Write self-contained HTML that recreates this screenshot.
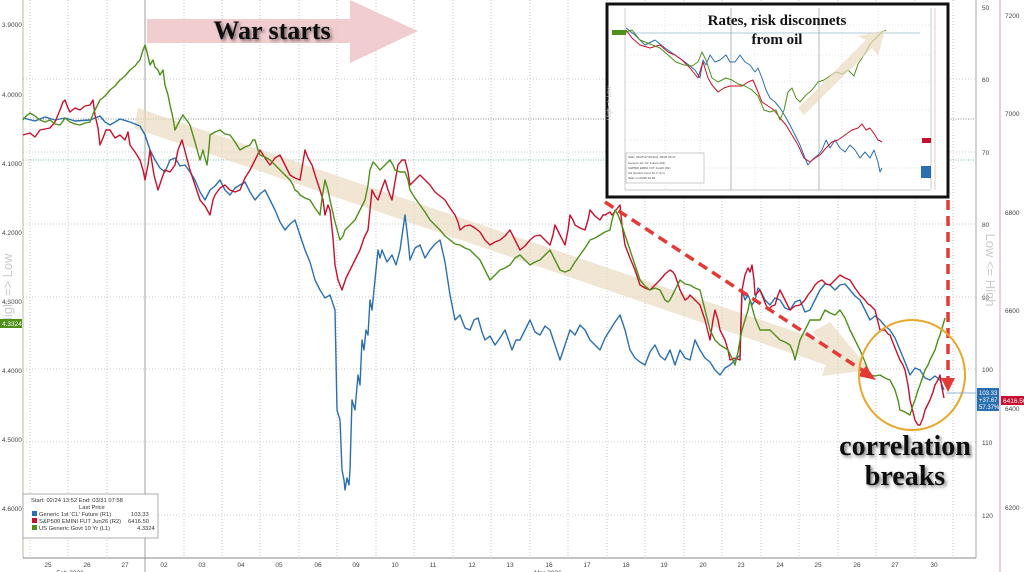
<!DOCTYPE html>
<html><head><meta charset="utf-8"><style>
body{margin:0;background:#fff;width:1024px;height:572px;overflow:hidden}
svg{display:block;font-family:"Liberation Sans",sans-serif}
</style></head><body>
<svg width="1024" height="572" viewBox="0 0 1024 572">
<defs>
<filter id="sh" x="-10%" y="-10%" width="130%" height="130%"><feGaussianBlur in="SourceAlpha" stdDeviation="1.5"/><feOffset dx="2" dy="2"/><feComponentTransfer><feFuncA type="linear" slope="0.5"/></feComponentTransfer><feMerge><feMergeNode/><feMergeNode in="SourceGraphic"/></feMerge></filter>
</defs>
<rect width="1024" height="572" fill="#fff"/>
<!-- vertical grid -->
<g stroke="#bbb" stroke-dasharray="1,2" stroke-width="0.8">
<line x1="30" y1="0" x2="30" y2="558"/><line x1="68" y1="0" x2="68" y2="558"/><line x1="107" y1="0" x2="107" y2="558"/>
<line x1="184" y1="0" x2="184" y2="558"/><line x1="222" y1="0" x2="222" y2="558"/><line x1="260" y1="0" x2="260" y2="558"/><line x1="299" y1="0" x2="299" y2="558"/><line x1="337" y1="0" x2="337" y2="558"/><line x1="376" y1="0" x2="376" y2="558"/><line x1="414" y1="0" x2="414" y2="558"/><line x1="453" y1="0" x2="453" y2="558"/><line x1="491" y1="0" x2="491" y2="558"/><line x1="530" y1="0" x2="530" y2="558"/><line x1="568" y1="0" x2="568" y2="558"/><line x1="607" y1="0" x2="607" y2="558"/><line x1="645" y1="0" x2="645" y2="558"/><line x1="684" y1="0" x2="684" y2="558"/><line x1="722" y1="0" x2="722" y2="558"/><line x1="761" y1="0" x2="761" y2="558"/><line x1="799" y1="0" x2="799" y2="558"/><line x1="838" y1="0" x2="838" y2="558"/><line x1="876" y1="0" x2="876" y2="558"/><line x1="915" y1="0" x2="915" y2="558"/><line x1="953" y1="0" x2="953" y2="558"/>
</g>
<line x1="145" y1="0" x2="145" y2="572" stroke="#888" stroke-width="0.8"/>
<g stroke="#bbb" stroke-dasharray="1,2" stroke-width="0.8">
<line x1="23" y1="79" x2="976" y2="79"/><line x1="23" y1="152" x2="976" y2="152"/><line x1="23" y1="224" x2="976" y2="224"/><line x1="23" y1="297" x2="976" y2="297"/><line x1="23" y1="369" x2="976" y2="369"/><line x1="23" y1="442" x2="976" y2="442"/><line x1="23" y1="515" x2="976" y2="515"/>
</g>
<line x1="23" y1="119" x2="976" y2="119" stroke="#666" stroke-dasharray="1,1.5" stroke-width="0.7"/>
<line x1="23" y1="160" x2="976" y2="160" stroke="#5a8" stroke-dasharray="1,1.5" stroke-width="0.7"/>
<!-- axes -->
<line x1="23" y1="0" x2="23" y2="558" stroke="#b8b8a0" stroke-width="1"/>
<line x1="23" y1="558" x2="976" y2="558" stroke="#888" stroke-width="1"/>
<line x1="976" y1="0" x2="976" y2="558" stroke="#9ab" stroke-width="1"/>
<line x1="1000" y1="0" x2="1000" y2="572" stroke="#d9a0a8" stroke-width="1"/>
<g font-size="6.5" fill="#444">
<text x="2" y="27">3.9000</text><text x="2" y="97">4.0000</text><text x="2" y="166">4.1000</text><text x="2" y="235">4.2000</text><text x="2" y="304">4.3000</text><text x="2" y="373">4.4000</text><text x="2" y="442">4.5000</text><text x="2" y="511">4.6000</text>
<text x="982" y="10">50</text><text x="982" y="82">60</text><text x="982" y="155">70</text><text x="982" y="227">80</text><text x="982" y="300">90</text><text x="982" y="372">100</text><text x="982" y="445">110</text><text x="982" y="518">120</text>
<text x="1005" y="18">7200</text><text x="1005" y="116">7000</text><text x="1005" y="215">6800</text><text x="1005" y="313">6600</text><text x="1005" y="411">6400</text><text x="1005" y="510">6200</text>
</g>
<g font-size="6.5" fill="#444" text-anchor="middle">
<text x="48" y="567">25</text><text x="87" y="567">26</text><text x="125" y="567">27</text><text x="164" y="567">02</text><text x="202" y="567">03</text><text x="241" y="567">04</text><text x="279" y="567">05</text><text x="318" y="567">06</text><text x="356" y="567">09</text><text x="395" y="567">10</text><text x="433" y="567">11</text><text x="472" y="567">12</text><text x="510" y="567">13</text><text x="549" y="567">16</text><text x="587" y="567">17</text><text x="626" y="567">18</text><text x="664" y="567">19</text><text x="703" y="567">20</text><text x="741" y="567">23</text><text x="780" y="567">24</text><text x="818" y="567">25</text><text x="857" y="567">26</text><text x="895" y="567">27</text><text x="934" y="567">30</text>
<text x="70" y="575">Feb 2026</text><text x="548" y="575">Mar 2026</text>
</g>
<text x="12" y="290" font-size="13" fill="#ccc" transform="rotate(-90 12 290)" text-anchor="middle">High =&gt; Low</text>
<text x="986" y="270" font-size="13" fill="#ccc" transform="rotate(90 986 270)" text-anchor="middle">Low &lt;= High</text>
<!-- war starts arrow -->
<path d="M147,19 L350,19 L350,0 L418,31 L350,63 L350,43 L147,43 Z" fill="#f0c4c8" opacity="0.85"/>
<text x="272" y="39" font-family="Liberation Serif,serif" font-weight="bold" font-size="26" fill="#111" text-anchor="middle" filter="url(#sh)">War starts</text>
<!-- beige band -->
<path d="M138,108 L820,340 L812,332 L830,322 L870,370 L822,376 L826,365 L134,128 Z" fill="#eadcc0" opacity="0.7"/>
<!-- series -->
<g fill="none" stroke-width="1.4" stroke-linejoin="round">
<polyline stroke="#2a6fb0" points="23,118 35,121 45,117 55,120 65,118 75,121 90,120 100,116 105,122 110,125 120,119 130,122 140,126 145,135 150,150 155,160 160,168 165,172 170,160 175,158 180,166 185,165 190,172 195,180 200,192 205,200 210,190 215,186 220,180 225,190 230,195 235,188 245,182 250,192 255,200 260,194 265,190 270,200 275,210 280,222 285,230 290,224 295,220 300,235 305,250 310,262 315,280 320,290 325,298 330,295 335,310 337,410 340,420 342,470 344,480 345,490 347,478 349,485 350,470 352,400 355,410 358,375 360,385 362,340 364,350 366,330 368,335 370,300 372,310 375,280 378,250 380,258 382,250 387,262 392,255 396,265 400,250 405,215 408,240 410,260 415,248 420,245 425,258 430,250 435,244 440,240 445,262 450,295 455,320 460,315 465,328 470,330 474,320 478,318 482,332 485,340 490,336 495,345 500,338 505,330 510,344 512,350 516,340 520,340 525,330 530,320 535,332 540,335 545,326 550,330 555,345 560,360 565,345 570,330 575,335 580,325 585,330 590,340 595,345 600,350 605,338 610,330 615,322 620,315 625,330 630,350 635,358 640,362 645,365 650,352 655,345 660,356 665,360 670,350 675,365 680,350 685,358 690,360 695,340 700,350 705,358 710,362 715,370 720,375 725,368 730,365 735,360 740,355 742,290 745,300 748,295 752,305 755,300 758,288 760,290 765,300 770,305 775,298 780,300 785,308 790,310 795,302 800,300 805,312 810,310 815,300 820,290 825,284 830,285 835,290 840,285 845,284 850,290 855,296 860,300 865,310 870,320 875,316 880,320 885,326 890,330 895,338 900,350 905,362 910,375 915,368 920,370 925,378 930,380 935,376 940,380 944,390"/>
<polyline stroke="#c8102e" points="23,135 30,133 35,137 40,130 50,128 55,122 60,110 63,102 65,100 68,108 70,112 75,108 80,110 85,106 90,105 93,100 95,115 98,128 100,145 103,138 106,130 110,130 115,138 120,135 125,140 128,132 130,145 135,152 140,160 143,170 145,180 148,165 150,150 154,175 158,190 162,178 165,170 170,172 175,165 178,150 182,140 186,155 190,170 195,185 200,200 205,206 210,215 213,200 215,195 220,188 225,185 230,190 235,192 240,190 245,178 250,170 255,160 260,150 265,158 270,165 275,158 280,155 285,165 290,175 295,178 300,180 303,162 305,150 308,158 312,165 316,178 320,190 323,200 325,215 328,205 330,210 333,238 335,265 338,280 342,290 346,278 350,270 355,260 360,250 364,238 368,230 370,210 372,190 375,196 378,200 382,188 385,180 388,190 392,200 395,182 398,165 402,160 405,160 408,172 410,185 415,180 420,175 425,180 430,185 435,192 440,196 445,200 450,208 455,215 458,222 460,230 465,226 470,225 475,228 480,232 485,240 490,245 495,242 500,240 505,236 510,230 515,240 520,250 525,246 530,240 535,236 540,235 545,240 550,245 553,235 555,225 560,235 565,245 568,230 570,215 573,220 575,225 580,228 585,230 588,220 590,210 595,216 600,220 603,215 605,215 610,212 612,215 616,210 620,205 622,225 625,245 630,258 635,270 640,285 645,288 650,290 655,285 660,280 665,274 670,270 673,272 675,275 680,290 685,300 688,298 690,295 695,300 700,305 705,320 710,340 713,320 715,310 718,320 720,330 723,336 725,340 728,350 730,360 735,358 740,360 741,320 742,290 745,275 748,268 750,272 752,265 754,280 755,295 758,292 760,290 764,300 768,310 772,306 775,305 778,295 780,290 785,300 790,310 795,306 800,305 805,300 808,295 812,290 815,285 818,282 822,280 826,284 830,285 835,280 840,275 845,278 850,280 855,288 860,295 865,300 868,304 870,305 873,308 875,310 878,322 880,330 885,330 888,334 890,335 895,348 900,360 903,365 905,370 908,385 910,400 913,412 915,420 918,425 920,425 923,418 925,410 928,404 930,400 933,392 935,385 938,380 940,375 942,388 944,398"/>
<polyline stroke="#4f8f1a" points="23,120 26,116 30,113 35,116 40,120 45,122 50,120 55,124 60,125 63,121 65,118 70,122 75,124 80,125 85,123 90,122 93,114 95,110 98,104 100,100 105,96 110,90 115,86 120,80 125,76 130,70 135,66 138,62 140,60 143,50 145,45 147,52 150,65 153,60 155,67 158,70 160,75 163,70 165,85 168,95 170,105 173,118 175,130 178,124 180,120 183,115 185,118 188,122 190,125 195,142 200,160 203,150 205,158 207,165 209,148 210,135 215,132 220,130 225,134 230,135 235,142 240,150 245,147 250,145 253,140 255,140 258,150 260,155 265,157 270,160 275,165 280,170 285,175 290,180 293,185 295,190 298,192 300,195 305,198 310,200 315,208 320,215 322,198 325,180 328,190 330,200 335,222 340,240 343,236 345,230 350,225 355,220 360,210 365,200 368,185 370,170 373,162 376,165 380,170 385,165 390,160 393,165 395,170 400,172 405,172 408,180 410,190 415,198 420,205 425,212 430,220 435,225 440,230 445,236 450,240 455,244 460,245 465,248 470,250 475,255 480,260 485,270 490,280 495,275 500,270 505,268 510,265 515,258 520,255 525,260 530,265 535,262 540,260 545,255 550,250 555,260 560,270 565,272 570,270 575,262 580,255 585,248 590,240 595,238 600,235 605,232 610,230 612,220 615,210 618,215 620,220 625,235 630,250 635,265 640,280 645,286 650,290 655,288 660,290 663,296 665,300 668,302 670,300 675,290 680,280 685,284 690,285 695,288 700,290 705,310 710,330 715,340 720,345 725,348 728,350 732,358 735,365 738,352 740,340 742,330 745,320 748,310 750,300 755,318 760,330 765,330 770,330 775,335 780,340 785,342 790,345 793,352 795,360 798,348 800,340 805,330 810,320 815,320 820,320 823,314 825,310 830,313 835,315 838,312 840,310 845,318 850,330 855,340 860,350 865,362 870,375 875,376 880,375 885,378 890,380 893,386 895,390 898,400 900,410 905,412 910,415 913,405 915,400 918,390 920,385 923,376 925,370 928,365 930,360 935,350 938,340 940,335 943,325 945,318"/>
</g>
<!-- red dashed arrows -->
<line x1="605" y1="202" x2="868" y2="374" stroke="#e53935" stroke-width="3.5" stroke-dasharray="10,6"/>
<path d="M876,380 L858,376 L866,366 Z" fill="#e53935"/>
<line x1="948" y1="200" x2="948" y2="380" stroke="#e53935" stroke-width="3.5" stroke-dasharray="10,6"/>
<path d="M941,378 L955,378 L948,392 Z" fill="#e53935"/>
<ellipse cx="912" cy="375" rx="53" ry="55" fill="none" stroke="#e8a82a" stroke-width="2"/>
<text x="905" y="455" font-family="Liberation Serif,serif" font-weight="bold" font-size="28" fill="#111" text-anchor="middle" filter="url(#sh)">correlation</text>
<text x="905" y="485" font-family="Liberation Serif,serif" font-weight="bold" font-size="28" fill="#111" text-anchor="middle" filter="url(#sh)">breaks</text>
<!-- end tags -->
<line x1="946" y1="393" x2="976" y2="393" stroke="#6a9fcf" stroke-width="0.8"/>
<rect x="977" y="388" width="22" height="23" fill="#2a6fb0"/>
<g font-size="6" fill="#fff"><text x="979" y="395">103.33</text><text x="979" y="402">+37.67</text><text x="979" y="409">57.37%</text></g>
<rect x="1001" y="396" width="23" height="9" fill="#c8102e"/><text x="1003" y="403" font-size="6.5" fill="#fff">6416.50</text>
<rect x="0" y="319" width="22" height="9" fill="#4f8f1a"/><text x="2" y="326" font-size="6.5" fill="#fff">4.3324</text>
<!-- legend -->
<rect x="23" y="494" width="135" height="44" fill="#fff" stroke="#999" stroke-width="0.8"/>
<g font-size="5.8" fill="#333">
<text x="31" y="502">Start: 02/24 13:52 End: 03/31 07:58</text>
<text x="79" y="509">Last Price</text>
<rect x="32" y="511" width="5" height="5" fill="#2a6fb0"/><text x="39" y="516">Generic 1st 'CL' Future  (R1)</text><text x="131" y="516">103.33</text>
<rect x="32" y="518" width="5" height="5" fill="#c8102e"/><text x="39" y="523">S&amp;P500 EMINI FUT Jun26  (R2)</text><text x="128" y="523">6416.50</text>
<rect x="32" y="525" width="5" height="5" fill="#4f8f1a"/><text x="39" y="530">US Generic Govt 10 Yr  (L1)</text><text x="137" y="530">4.3324</text>
</g>
<!-- inset -->
<rect x="607" y="4" width="341" height="193" fill="#fff" stroke="#111" stroke-width="3"/>
<g stroke="#ccc" stroke-dasharray="1,2" stroke-width="0.6">
<line x1="625" y1="25" x2="930" y2="25"/><line x1="625" y1="55" x2="930" y2="55"/><line x1="625" y1="82" x2="930" y2="82"/><line x1="625" y1="110" x2="930" y2="110"/><line x1="625" y1="140" x2="930" y2="140"/><line x1="625" y1="168" x2="930" y2="168"/>
<line x1="665" y1="8" x2="665" y2="190"/><line x1="700" y1="8" x2="700" y2="190"/><line x1="755" y1="8" x2="755" y2="190"/><line x1="790" y1="8" x2="790" y2="190"/><line x1="842" y1="8" x2="842" y2="190"/><line x1="878" y1="8" x2="878" y2="190"/>
</g>
<line x1="625" y1="33" x2="920" y2="33" stroke="#9bc" stroke-width="0.7"/>
<line x1="625" y1="8" x2="625" y2="190" stroke="#aaa" stroke-width="0.6"/>
<line x1="625" y1="190" x2="930" y2="190" stroke="#888" stroke-width="0.6"/>
<line x1="931" y1="8" x2="931" y2="190" stroke="#9ab" stroke-width="0.6"/>
<line x1="935" y1="8" x2="935" y2="190" stroke="#d9a0a8" stroke-width="0.6"/>
<line x1="731" y1="8" x2="731" y2="190" stroke="#888" stroke-width="0.6"/>
<line x1="819" y1="8" x2="819" y2="190" stroke="#888" stroke-width="0.6"/>
<g fill="none" stroke-width="1" stroke-linejoin="round">
<polyline stroke="#2a6fb0" points="626,28 635,35 645,45 655,40 665,48 675,55 685,62 695,70 700,78 703,60 706,65 710,55 715,62 720,60 726,55 730,62 735,62 740,55 745,62 750,65 755,72 758,68 762,78 766,90 770,98 775,102 780,108 785,116 790,125 795,135 800,145 805,158 808,165 812,160 818,155 822,150 826,140 830,148 835,140 840,148 845,152 850,145 855,150 860,158 865,152 870,158 874,150 878,162 880,172 882,168"/>
<polyline stroke="#c8102e" points="626,30 632,38 640,45 650,48 660,45 668,52 675,55 682,60 690,68 698,78 703,62 708,78 712,85 718,92 724,88 730,86 736,86 742,86 748,82 753,80 758,92 762,102 768,106 774,110 780,118 786,125 792,135 798,145 804,158 810,162 815,158 820,155 826,148 832,142 838,140 845,135 852,130 858,128 862,124 866,130 870,128 875,135 878,140 882,142"/>
<polyline stroke="#4f8f1a" points="626,32 632,30 640,40 650,44 660,48 668,55 676,62 684,65 692,66 698,62 702,52 706,60 712,78 718,82 726,78 732,80 738,84 745,86 752,90 758,96 764,110 770,112 776,110 780,120 784,110 788,92 792,88 796,98 800,102 806,95 812,90 818,82 824,80 830,76 836,72 842,74 848,70 854,76 858,64 862,58 866,52 870,44 874,40 878,36 882,32 886,30"/>
</g>
<path d="M798,108 L866,40 L858,36 L885,30 L878,56 L872,48 L804,115 Z" fill="#eadcc0" opacity="0.7"/>
<text x="777" y="25" font-family="Liberation Serif,serif" font-weight="bold" font-size="15" fill="#111" text-anchor="middle">Rates, risk disconnets</text>
<text x="777" y="44" font-family="Liberation Serif,serif" font-weight="bold" font-size="15" fill="#111" text-anchor="middle">from oil</text>
<rect x="612" y="30" width="14" height="5" fill="#4f8f1a"/>
<rect x="922" y="138" width="9" height="5" fill="#c8102e"/>
<rect x="921" y="166" width="10" height="12" fill="#2a6fb0"/>
<rect x="626" y="153" width="78" height="30" fill="#fff" stroke="#999" stroke-width="0.5"/>
<g font-size="3" fill="#444"><text x="628" y="158">Start: 03/25 07:05 End: 03/30 20:47</text><text x="628" y="164">Generic 1st 'CL' Future (R1)</text><text x="628" y="169">S&amp;P500 EMINI FUT Jun26 (R2)</text><text x="628" y="174">US Generic Govt 10 Yr (L1)</text><text x="628" y="179">Start on 03/26 22:30</text></g>
<text x="611" y="120" font-size="6" fill="#ccc" transform="rotate(-90 611 120)">High =&gt; Low</text>
</svg>
</body></html>
